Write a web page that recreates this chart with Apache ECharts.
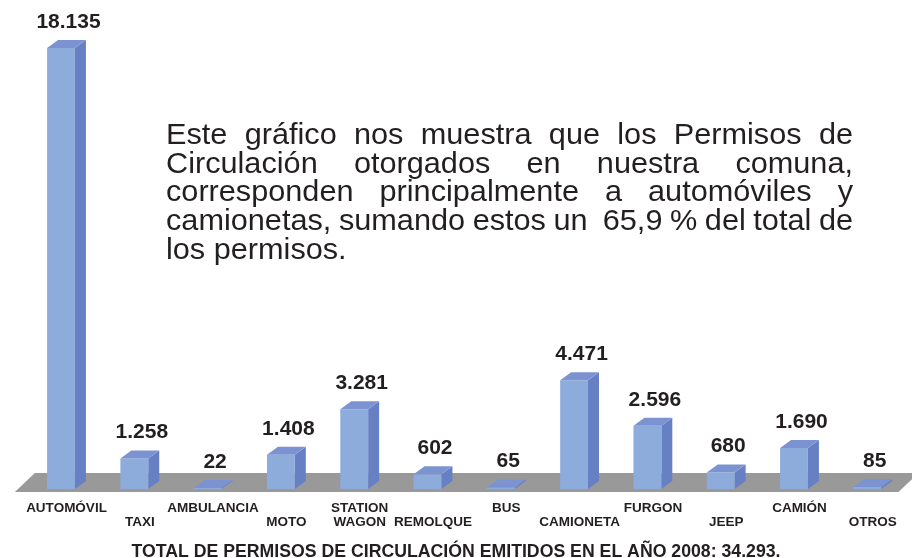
<!DOCTYPE html>
<html>
<head>
<meta charset="utf-8">
<script src="https://cdn.jsdelivr.net/npm/echarts@6/dist/echarts.min.js"></script>
<style>
  html, body { margin: 0; padding: 0; background: #fff; }
  #chart { width: 912px; height: 558px; }
</style>
</head>
<body>
<div id="chart"></div>
<script>
// permisos de circulación 2008, por tipo de vehículo
const categories = ['AUTOMÓVIL', 'TAXI', 'AMBULANCIA', 'MOTO', 'STATION\nWAGON', 'REMOLQUE',
  'BUS', 'CAMIONETA', 'FURGON', 'JEEP', 'CAMIÓN', 'OTROS']
const permisos = [18135, 1258, 22, 1408, 3281, 602, 65, 4471, 2596, 680, 1690, 85]
const totalTexto = 'TOTAL DE PERMISOS DE CIRCULACIÓN EMITIDOS EN EL AÑO 2008: 34.293.'
const notaLineas = [
  'Este gráfico nos muestra que los Permisos de',
  'Circulación otorgados en nuestra comuna,',
  'corresponden principalmente a automóviles y',
  'camionetas, sumando estos un  65,9 % del total de',
  'los permisos.'
]

const colFront = '#8dacdc'
const colTop = '#7b93d0'
const colSide = '#6780c3'
const fuente = 'Liberation Sans, Arial, sans-serif'

function miles (v) {
  return String(v).replace(/\B(?=(\d{3})+(?!\d))/g, '.')
}

const chart = echarts.init(document.getElementById('chart'), null, { renderer: 'canvas' })

// texto justificado palabra por palabra; Arial comprimida a lo ancho (tipo Arial Narrow)
const notaSize = 30
const ctx = document.createElement('canvas').getContext('2d')
ctx.font = notaSize + 'px ' + fuente
function medir (t) {
  return ctx.measureText(t).width
}
const notaX = 166
const notaW = 687
const escala = notaW / medir(notaLineas[3].replace('  ', ' '))
const notaGraphic = []
notaLineas.forEach(function (linea, i) {
  const y = 136 + i * 28.6
  const palabras = linea.split(' ')
  const justificar = i < notaLineas.length - 1
  const anchos = palabras.map(function (p) { return medir(p) * escala })
  const suma = anchos.reduce(function (a, b) { return a + b }, 0)
  const gap = justificar ? (notaW - suma) / (palabras.length - 1) : medir(' ') * escala
  let x = notaX
  palabras.forEach(function (p, j) {
    if (p) {
      notaGraphic.push({
        type: 'text',
        x: x,
        y: y,
        scaleX: escala,
        style: {
          text: p,
          fill: '#231f20',
          font: notaSize + 'px ' + fuente,
          verticalAlign: 'middle'
        }
      })
    }
    x += anchos[j] + gap
  })
})

const option = {
  animation: false,
  title: {
    text: totalTexto,
    left: 'center',
    top: 543,
    padding: 0,
    textStyle: { fontSize: 17.7, fontWeight: 'bold', color: '#231f20', fontFamily: fuente }
  },
  graphic: notaGraphic,
  grid: { left: 29.85, right: 2.55, top: 2.6, bottom: 69 },
  xAxis: {
    type: 'category',
    data: categories,
    axisLine: { show: false },
    axisTick: { show: false },
    axisLabel: {
      interval: 0,
      margin: 13,
      formatter: function (v, i) {
        const lineas = v.split('\n').map(function (s) { return '{a|' + s + '}' })
        if (i % 2 === 1) lineas.unshift('{a| }')
        return lineas.join('\n')
      },
      rich: {
        a: { fontSize: 13.5, fontWeight: 'bold', color: '#231f20', lineHeight: 13.5, fontFamily: fuente }
      }
    }
  },
  yAxis: {
    type: 'value',
    min: 0,
    max: 20000,
    show: false,
    splitLine: { show: false }
  },
  series: [
    {
      // piso gris
      type: 'custom',
      silent: true,
      z: 1,
      data: [[0]],
      renderItem: function (params, api) {
        const cs = params.coordSys
        const base = cs.y + cs.height
        return {
          type: 'polygon',
          shape: {
            points: [
              [cs.x - 15, base + 3],
              [cs.x + cs.width - 11, base + 3],
              [cs.x + cs.width + 9, base - 16],
              [cs.x + 5, base - 16]
            ]
          },
          style: { fill: '#999999' }
        }
      }
    },
    {
      type: 'custom',
      z: 2,
      data: permisos.map(function (v, i) { return [i, v] }),
      renderItem: function (params, api) {
        const p0 = api.coord([api.value(0), 0])
        const p1 = api.coord([api.value(0), api.value(1)])
        const w = api.size([1, 0])[0] * 0.38
        const dx = 11
        const dy = 8
        const cx = p0[0]
        const base = p0[1]
        const ty = Math.min(p1[1], base - 1)
        const fl = cx - (w + dx) / 2
        const fr = fl + w
        return {
          type: 'group',
          children: [
            {
              type: 'polygon',
              shape: { points: [[fr, ty], [fr + dx, ty - dy], [fr + dx, base - dy], [fr, base]] },
              style: { fill: colSide }
            },
            {
              type: 'rect',
              shape: { x: fl, y: ty, width: w, height: base - ty },
              style: { fill: colFront }
            },
            {
              type: 'polygon',
              shape: { points: [[fl, ty], [fl + dx, ty - dy], [fr + dx, ty - dy], [fr, ty]] },
              style: { fill: colTop }
            },
            {
              type: 'text',
              x: cx + 2,
              y: ty - 26,
              style: {
                text: miles(api.value(1)),
                fill: '#231f20',
                font: 'bold 21px ' + fuente,
                align: 'center',
                verticalAlign: 'middle'
              }
            }
          ]
        }
      }
    }
  ]
}

chart.setOption(option)
</script>
</body>
</html>
